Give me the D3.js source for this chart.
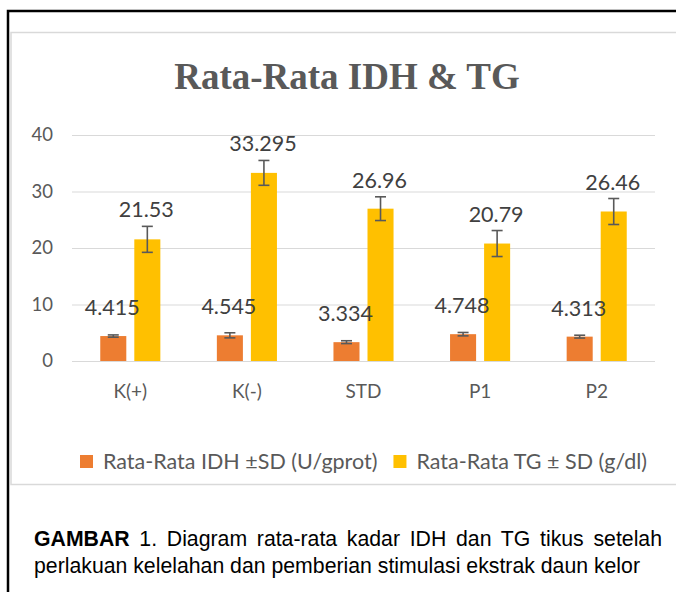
<!DOCTYPE html>
<html lang="id">
  <head>
    <meta charset="utf-8">
    <title>Rata-Rata IDH &amp; TG</title>
    <style>
      body { margin: 0; background: #fff; }
      svg text { font-family: Lato, 'Open Sans', sans-serif; }
      svg text.caption { font-family: 'Liberation Sans', Arial, sans-serif; }
      .grid line { stroke: #d9d9d9; stroke-width: 1px; }
      .grid .domain { display: none; }
      .axis text { fill: #595959; }
    </style>
  </head>
  <body>
    <svg id="wrapper" width="676" height="592"></svg>

    <script src="https://cdn.jsdelivr.net/npm/d3@7/dist/d3.min.js"></script>
    <script>
    // data
    const categories = ['K(+)', 'K(-)', 'STD', 'P1', 'P2'];
    const idhMean = [4.415, 4.545, 3.334, 4.748, 4.313];
    const idhSD = [0.2, 0.45, 0.25, 0.3, 0.25];
    const tgMean = [21.53, 33.295, 26.96, 20.79, 26.46];
    const tgSD = [2.3, 2.2, 2.1, 2.3, 2.3];
    const yTicks = [0, 10, 20, 30, 40];
    const seriesNames = ['Rata-Rata IDH ±SD (U/gprot)', 'Rata-Rata TG ± SD (g/dl)'];
    const colors = ['#ED7D31', '#FFC000'];
    const title = 'Rata-Rata IDH & TG';
    const captionBold = 'GAMBAR';
    const captionLine1 = ' 1. Diagram rata-rata kadar IDH dan TG tikus setelah';
    const captionLine2 = 'perlakuan kelelahan dan pemberian stimulasi ekstrak daun kelor';

    const plot = {left: 72, right: 655, top: 135, bottom: 361};

    let series = [
      {name: seriesNames[0], mean: idhMean, sd: idhSD, color: colors[0]},
      {name: seriesNames[1], mean: tgMean, sd: tgSD, color: colors[1]}
    ];
    let rows = [];
    series.forEach(function(s, si) {
      categories.forEach(function(c, i) {
        rows.push({cat: c, si: si, v: s.mean[i], sd: s.sd[i], color: s.color});
      });
    });

    let svg = d3.select('#wrapper');

    // outer frame of the figure and the chart area
    svg.append('rect')
      .attr('x', 8).attr('y', 11).attr('width', 700).attr('height', 620)
      .attr('fill', 'none').attr('stroke', '#000').attr('stroke-width', 2.5);
    svg.append('rect')
      .attr('x', 11).attr('y', 32.5).attr('width', 672).attr('height', 452)
      .attr('fill', '#fff').attr('stroke', '#d9d9d9').attr('stroke-width', 1.5);

    // scales
    let x0 = d3.scaleBand().domain(categories).range([plot.left, plot.right]);
    let x1 = d3.scaleBand().domain([0, 1]).range([0, x0.bandwidth()])
      .paddingInner(0.235).paddingOuter(0.83);
    let y = d3.scaleLinear().domain([0, 40]).range([plot.bottom, plot.top]);

    // title
    svg.append('text')
      .attr('x', 347).attr('y', 89)
      .attr('text-anchor', 'middle')
      .style('font-family', "'Liberation Serif', 'Times New Roman', serif")
      .attr('font-weight', 'bold')
      .attr('font-size', 37)
      .attr('fill', '#595959')
      .text(title);

    // gridlines + y labels
    svg.append('g')
      .attr('class', 'axis grid')
      .attr('transform', 'translate(' + plot.left + ',0)')
      .call(d3.axisLeft(y).tickValues(yTicks)
        .tickSize(-(plot.right - plot.left)).tickPadding(19))
      .selectAll('text')
      .attr('font-size', 18.5);

    // category labels
    let xAxis = svg.append('g')
      .attr('class', 'axis')
      .attr('transform', 'translate(0,' + plot.bottom + ')')
      .call(d3.axisBottom(x0).tickSize(0).tickPadding(24));
    xAxis.select('.domain').remove();
    xAxis.selectAll('text').attr('font-size', 19);

    // bars
    svg.append('g').selectAll('rect')
      .data(rows)
      .join('rect')
      .attr('x', d => x0(d.cat) + x1(d.si))
      .attr('width', x1.bandwidth())
      .attr('y', d => y(d.v))
      .attr('height', d => y(0) - y(d.v))
      .attr('fill', d => d.color);

    // error bars
    let err = svg.append('g')
      .attr('stroke', '#595959')
      .attr('stroke-width', 1.6)
      .selectAll('g')
      .data(rows)
      .join('g')
      .attr('transform', d => 'translate(' + (x0(d.cat) + x1(d.si) + x1.bandwidth() / 2) + ',0)');
    err.append('line')
      .attr('y1', d => y(d.v - d.sd)).attr('y2', d => y(d.v + d.sd));
    err.append('line')
      .attr('x1', -5.5).attr('x2', 5.5)
      .attr('y1', d => y(d.v + d.sd)).attr('y2', d => y(d.v + d.sd));
    err.append('line')
      .attr('x1', -5.5).attr('x2', 5.5)
      .attr('y1', d => y(d.v - d.sd)).attr('y2', d => y(d.v - d.sd));

    // value labels
    svg.append('g').selectAll('text')
      .data(rows)
      .join('text')
      .attr('x', d => x0(d.cat) + x1(d.si) + x1.bandwidth() / 2 - 1)
      .attr('y', d => d.si === 0 ? y(d.v) - 21 : y(d.v + d.sd) - 9)
      .attr('text-anchor', 'middle')
      .attr('font-size', 21.5)
      .attr('fill', '#404040')
      .text(d => String(d.v));

    // legend
    let legend = svg.append('g');
    let lx = 80;
    series.forEach(function(s) {
      legend.append('rect')
        .attr('x', lx).attr('y', 455).attr('width', 13).attr('height', 13)
        .attr('fill', s.color);
      let t = legend.append('text')
        .attr('x', lx + 23).attr('y', 469)
        .attr('font-size', 21.5)
        .attr('fill', '#595959')
        .text(s.name);
      lx += 23 + t.node().getComputedTextLength() + 16;
    });

    // caption below the chart: size taken from the width of line 2, line 1 justified
    let cap = svg.append('g')
      .attr('fill', '#000');
    let l2 = cap.append('text')
      .attr('class', 'caption')
      .attr('x', 34).attr('y', 573)
      .attr('font-size', 18)
      .text(captionLine2);
    let fs = 18 * 606 / l2.node().getComputedTextLength();
    l2.attr('font-size', fs);

    let l1 = cap.append('text')
      .attr('class', 'caption')
      .attr('x', 34).attr('y', 546)
      .attr('font-size', fs);
    l1.append('tspan').attr('font-weight', 'bold').text(captionBold);
    l1.append('tspan').text(captionLine1);
    let nSpaces = (captionBold + captionLine1).split(' ').length - 1;
    let w1 = l1.node().getComputedTextLength();
    l1.attr('word-spacing', (628 - w1) / nSpaces);
    </script>
  </body>
</html>
